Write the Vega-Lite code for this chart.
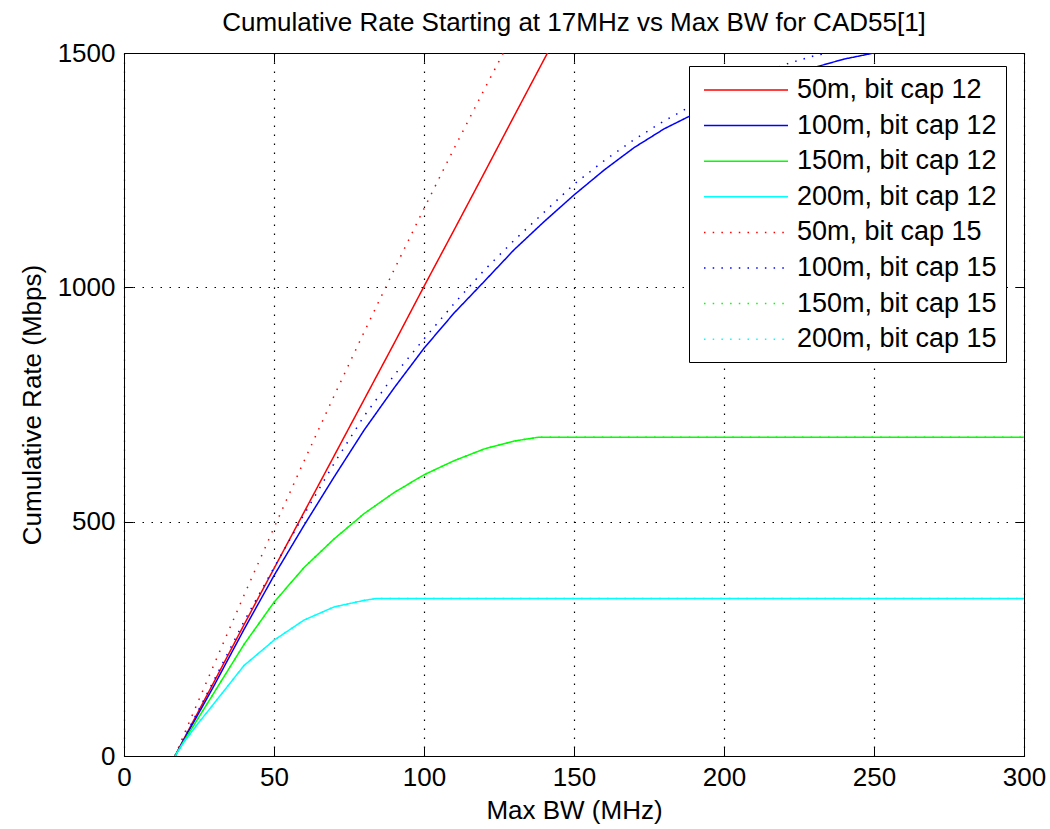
{
  "$schema": "https://vega.github.io/schema/vega-lite/v6.json",
  "width": 900,
  "height": 703,
  "autosize": {"type": "none"},
  "padding": {"left": 124, "top": 53, "right": 26, "bottom": 73},
  "background": "white",
  "title": {"text": "Cumulative Rate Starting at 17MHz vs Max BW for CAD55[1]", "font": "Liberation Sans", "fontSize": 26, "fontWeight": "normal", "color": "black", "offset": -5},
  "config": {
    "view": {"stroke": "black", "strokeWidth": 1},
    "axis": {"labelFont": "Liberation Sans", "labelFontSize": 26, "labelColor": "black", "labelFlush": false, "format": "d", "titleFont": "Liberation Sans", "titleFontSize": 26, "titleFontWeight": "normal", "titleColor": "black", "domainColor": "black", "domainWidth": 1, "tickColor": "black", "tickWidth": 1, "gridColor": "black", "gridDash": [1.5, 7.5], "gridWidth": 1.2, "gridOpacity": 1}
  },
  "data": {"values": [
    {"series": "50m, bit cap 12", "bw": 17, "rate": 0},
    {"series": "50m, bit cap 12", "bw": 20, "rate": 37},
    {"series": "50m, bit cap 12", "bw": 30, "rate": 158},
    {"series": "50m, bit cap 12", "bw": 40, "rate": 280},
    {"series": "50m, bit cap 12", "bw": 50, "rate": 400},
    {"series": "50m, bit cap 12", "bw": 60, "rate": 520},
    {"series": "50m, bit cap 12", "bw": 70, "rate": 640},
    {"series": "50m, bit cap 12", "bw": 80, "rate": 760},
    {"series": "50m, bit cap 12", "bw": 90, "rate": 880},
    {"series": "50m, bit cap 12", "bw": 100, "rate": 1002},
    {"series": "50m, bit cap 12", "bw": 110, "rate": 1122},
    {"series": "50m, bit cap 12", "bw": 120, "rate": 1243},
    {"series": "50m, bit cap 12", "bw": 130, "rate": 1365},
    {"series": "50m, bit cap 12", "bw": 140, "rate": 1486},
    {"series": "50m, bit cap 12", "bw": 145, "rate": 1546},
    {"series": "100m, bit cap 12", "bw": 17, "rate": 0},
    {"series": "100m, bit cap 12", "bw": 20, "rate": 35},
    {"series": "100m, bit cap 12", "bw": 30, "rate": 150},
    {"series": "100m, bit cap 12", "bw": 40, "rate": 270},
    {"series": "100m, bit cap 12", "bw": 50, "rate": 385},
    {"series": "100m, bit cap 12", "bw": 60, "rate": 492},
    {"series": "100m, bit cap 12", "bw": 70, "rate": 595},
    {"series": "100m, bit cap 12", "bw": 80, "rate": 695},
    {"series": "100m, bit cap 12", "bw": 90, "rate": 785},
    {"series": "100m, bit cap 12", "bw": 100, "rate": 870},
    {"series": "100m, bit cap 12", "bw": 110, "rate": 945},
    {"series": "100m, bit cap 12", "bw": 120, "rate": 1012},
    {"series": "100m, bit cap 12", "bw": 130, "rate": 1080},
    {"series": "100m, bit cap 12", "bw": 140, "rate": 1140},
    {"series": "100m, bit cap 12", "bw": 150, "rate": 1197},
    {"series": "100m, bit cap 12", "bw": 160, "rate": 1250},
    {"series": "100m, bit cap 12", "bw": 170, "rate": 1298},
    {"series": "100m, bit cap 12", "bw": 180, "rate": 1338},
    {"series": "100m, bit cap 12", "bw": 190, "rate": 1370},
    {"series": "100m, bit cap 12", "bw": 200, "rate": 1398},
    {"series": "100m, bit cap 12", "bw": 210, "rate": 1423},
    {"series": "100m, bit cap 12", "bw": 220, "rate": 1447},
    {"series": "100m, bit cap 12", "bw": 230, "rate": 1469},
    {"series": "100m, bit cap 12", "bw": 240, "rate": 1487},
    {"series": "100m, bit cap 12", "bw": 250, "rate": 1500},
    {"series": "150m, bit cap 12", "bw": 17, "rate": 0},
    {"series": "150m, bit cap 12", "bw": 20, "rate": 32},
    {"series": "150m, bit cap 12", "bw": 30, "rate": 135},
    {"series": "150m, bit cap 12", "bw": 40, "rate": 238},
    {"series": "150m, bit cap 12", "bw": 50, "rate": 328},
    {"series": "150m, bit cap 12", "bw": 60, "rate": 402},
    {"series": "150m, bit cap 12", "bw": 70, "rate": 463},
    {"series": "150m, bit cap 12", "bw": 80, "rate": 517},
    {"series": "150m, bit cap 12", "bw": 90, "rate": 562},
    {"series": "150m, bit cap 12", "bw": 100, "rate": 600},
    {"series": "150m, bit cap 12", "bw": 110, "rate": 630},
    {"series": "150m, bit cap 12", "bw": 120, "rate": 655},
    {"series": "150m, bit cap 12", "bw": 130, "rate": 672},
    {"series": "150m, bit cap 12", "bw": 138, "rate": 680},
    {"series": "150m, bit cap 12", "bw": 300, "rate": 680},
    {"series": "200m, bit cap 12", "bw": 17, "rate": 0},
    {"series": "200m, bit cap 12", "bw": 20, "rate": 30},
    {"series": "200m, bit cap 12", "bw": 25, "rate": 72},
    {"series": "200m, bit cap 12", "bw": 30, "rate": 112},
    {"series": "200m, bit cap 12", "bw": 40, "rate": 193},
    {"series": "200m, bit cap 12", "bw": 50, "rate": 247},
    {"series": "200m, bit cap 12", "bw": 60, "rate": 290},
    {"series": "200m, bit cap 12", "bw": 70, "rate": 318},
    {"series": "200m, bit cap 12", "bw": 80, "rate": 332},
    {"series": "200m, bit cap 12", "bw": 84, "rate": 336},
    {"series": "200m, bit cap 12", "bw": 300, "rate": 336},
    {"series": "50m, bit cap 15", "bw": 17, "rate": 0},
    {"series": "50m, bit cap 15", "bw": 20, "rate": 46},
    {"series": "50m, bit cap 15", "bw": 30, "rate": 195},
    {"series": "50m, bit cap 15", "bw": 40, "rate": 343},
    {"series": "50m, bit cap 15", "bw": 50, "rate": 487},
    {"series": "50m, bit cap 15", "bw": 60, "rate": 629},
    {"series": "50m, bit cap 15", "bw": 70, "rate": 768},
    {"series": "50m, bit cap 15", "bw": 80, "rate": 904},
    {"series": "50m, bit cap 15", "bw": 90, "rate": 1037},
    {"series": "50m, bit cap 15", "bw": 100, "rate": 1168},
    {"series": "50m, bit cap 15", "bw": 110, "rate": 1296},
    {"series": "50m, bit cap 15", "bw": 120, "rate": 1421},
    {"series": "50m, bit cap 15", "bw": 130, "rate": 1544},
    {"series": "100m, bit cap 15", "bw": 17, "rate": 0},
    {"series": "100m, bit cap 15", "bw": 20, "rate": 38},
    {"series": "100m, bit cap 15", "bw": 30, "rate": 162},
    {"series": "100m, bit cap 15", "bw": 40, "rate": 287},
    {"series": "100m, bit cap 15", "bw": 50, "rate": 402},
    {"series": "100m, bit cap 15", "bw": 60, "rate": 515},
    {"series": "100m, bit cap 15", "bw": 70, "rate": 624},
    {"series": "100m, bit cap 15", "bw": 80, "rate": 725},
    {"series": "100m, bit cap 15", "bw": 90, "rate": 812},
    {"series": "100m, bit cap 15", "bw": 100, "rate": 890},
    {"series": "100m, bit cap 15", "bw": 110, "rate": 965},
    {"series": "100m, bit cap 15", "bw": 120, "rate": 1036},
    {"series": "100m, bit cap 15", "bw": 130, "rate": 1100},
    {"series": "100m, bit cap 15", "bw": 140, "rate": 1160},
    {"series": "100m, bit cap 15", "bw": 150, "rate": 1220},
    {"series": "100m, bit cap 15", "bw": 160, "rate": 1270},
    {"series": "100m, bit cap 15", "bw": 170, "rate": 1315},
    {"series": "100m, bit cap 15", "bw": 180, "rate": 1355},
    {"series": "100m, bit cap 15", "bw": 190, "rate": 1390},
    {"series": "100m, bit cap 15", "bw": 200, "rate": 1420},
    {"series": "100m, bit cap 15", "bw": 210, "rate": 1448},
    {"series": "100m, bit cap 15", "bw": 220, "rate": 1475},
    {"series": "100m, bit cap 15", "bw": 230, "rate": 1494},
    {"series": "100m, bit cap 15", "bw": 235, "rate": 1500},
    {"series": "150m, bit cap 15", "bw": 17, "rate": 0},
    {"series": "150m, bit cap 15", "bw": 20, "rate": 32},
    {"series": "150m, bit cap 15", "bw": 30, "rate": 135},
    {"series": "150m, bit cap 15", "bw": 40, "rate": 238},
    {"series": "150m, bit cap 15", "bw": 50, "rate": 328},
    {"series": "150m, bit cap 15", "bw": 60, "rate": 402},
    {"series": "150m, bit cap 15", "bw": 70, "rate": 463},
    {"series": "150m, bit cap 15", "bw": 80, "rate": 517},
    {"series": "150m, bit cap 15", "bw": 90, "rate": 562},
    {"series": "150m, bit cap 15", "bw": 100, "rate": 600},
    {"series": "150m, bit cap 15", "bw": 110, "rate": 630},
    {"series": "150m, bit cap 15", "bw": 120, "rate": 655},
    {"series": "150m, bit cap 15", "bw": 130, "rate": 672},
    {"series": "150m, bit cap 15", "bw": 138, "rate": 680},
    {"series": "150m, bit cap 15", "bw": 300, "rate": 680},
    {"series": "200m, bit cap 15", "bw": 17, "rate": 0},
    {"series": "200m, bit cap 15", "bw": 20, "rate": 30},
    {"series": "200m, bit cap 15", "bw": 25, "rate": 72},
    {"series": "200m, bit cap 15", "bw": 30, "rate": 112},
    {"series": "200m, bit cap 15", "bw": 40, "rate": 193},
    {"series": "200m, bit cap 15", "bw": 50, "rate": 247},
    {"series": "200m, bit cap 15", "bw": 60, "rate": 290},
    {"series": "200m, bit cap 15", "bw": 70, "rate": 318},
    {"series": "200m, bit cap 15", "bw": 80, "rate": 332},
    {"series": "200m, bit cap 15", "bw": 84, "rate": 336},
    {"series": "200m, bit cap 15", "bw": 300, "rate": 336}
  ]},
  "layer": [
    {
      "mark": {"type": "line", "clip": true, "strokeWidth": 1.5},
      "encoding": {
        "x": {"field": "bw", "type": "quantitative", "scale": {"domain": [0, 300], "nice": false}, "axis": {"values": [0, 50, 100, 150, 200, 250, 300], "tickSize": -9, "labelPadding": 17, "grid": true, "title": "Max BW (MHz)", "titlePadding": 7}},
        "y": {"field": "rate", "type": "quantitative", "scale": {"domain": [0, 1500], "nice": false}, "axis": {"values": [0, 500, 1000, 1500], "tickSize": -9, "labelPadding": 18, "grid": true, "title": "Cumulative Rate (Mbps)", "titlePadding": 12}},
        "color": {"field": "series", "type": "nominal", "sort": null,
          "scale": {"domain": ["50m, bit cap 12", "100m, bit cap 12", "150m, bit cap 12", "200m, bit cap 12", "50m, bit cap 15", "100m, bit cap 15", "150m, bit cap 15", "200m, bit cap 15"], "range": ["#ff0000", "#0000ff", "#00ff00", "#00ffff", "#ff0000", "#0000ff", "#00ff00", "#00ffff"]},
          "legend": {"title": null, "orient": "none", "legendX": 565, "legendY": 13, "symbolType": "M-3,0H3", "symbolSize": 784, "symbolStrokeWidth": 1.5, "labelFont": "Liberation Sans", "labelFontSize": 27, "labelColor": "black", "labelLimit": 400, "strokeColor": "black", "fillColor": "white", "padding": 9, "rowPadding": 7.6, "symbolOffset": 33, "labelOffset": 36}},
        "strokeDash": {"field": "series", "type": "nominal", "sort": null,
          "scale": {"domain": ["50m, bit cap 12", "100m, bit cap 12", "150m, bit cap 12", "200m, bit cap 12", "50m, bit cap 15", "100m, bit cap 15", "150m, bit cap 15", "200m, bit cap 15"], "range": [[1, 0], [1, 0], [1, 0], [1, 0], [1.5, 7.2], [1.5, 7.2], [1.5, 7.2], [1.5, 7.2]]},
          "legend": {"title": null, "orient": "none", "legendX": 565, "legendY": 13, "symbolType": "M-3,0H3", "symbolSize": 784, "symbolStrokeWidth": 1.5, "labelFont": "Liberation Sans", "labelFontSize": 27, "labelColor": "black", "labelLimit": 400, "strokeColor": "black", "fillColor": "white", "padding": 9, "rowPadding": 7.6, "symbolOffset": 33, "labelOffset": 36}}
      }
    },
    {
      "mark": {"type": "line", "opacity": 0},
      "encoding": {
        "x": {"field": "bw", "type": "quantitative", "axis": {"orient": "top", "values": [0, 50, 100, 150, 200, 250, 300], "tickSize": -9, "labels": false, "grid": false, "title": null}},
        "y": {"field": "rate", "type": "quantitative", "axis": {"orient": "right", "values": [0, 500, 1000, 1500], "tickSize": -9, "labels": false, "grid": false, "title": null}}
      }
    }
  ],
  "resolve": {"axis": {"x": "independent", "y": "independent"}}
}
